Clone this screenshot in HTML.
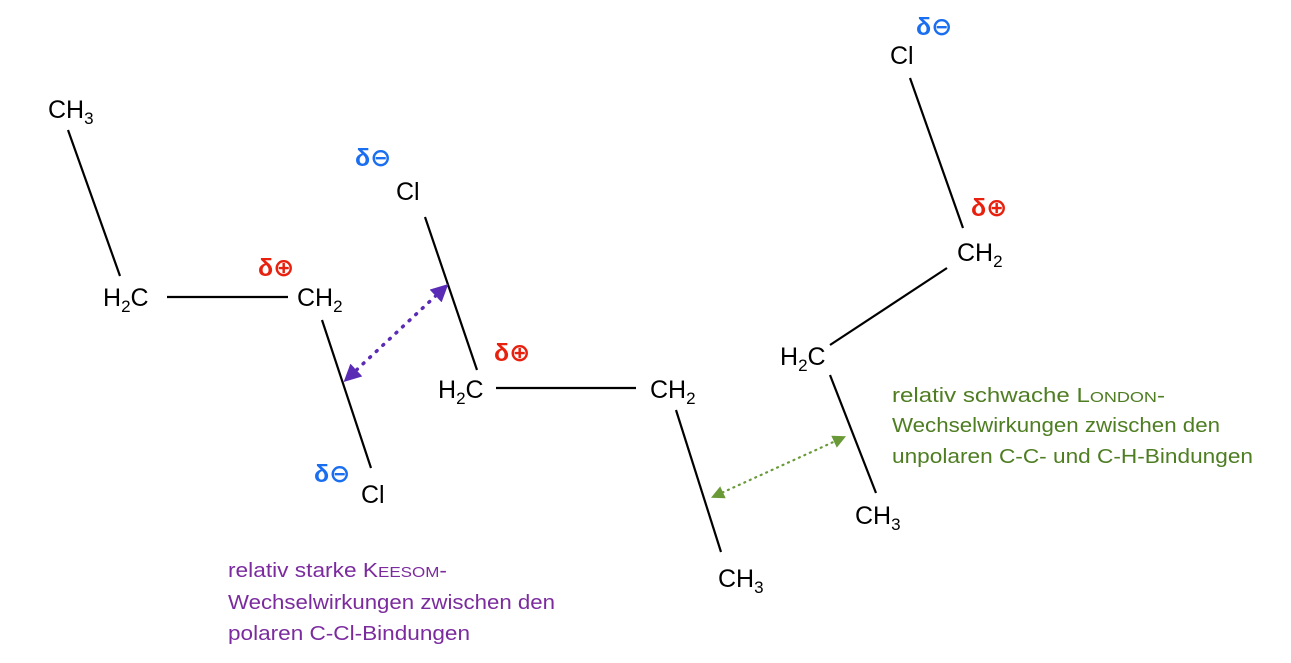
<!DOCTYPE html>
<html><head><meta charset="utf-8"><style>
html,body{margin:0;padding:0;background:#fff;width:1291px;height:663px;overflow:hidden}
svg text{font-family:"Liberation Sans","DejaVu Sans",sans-serif}
.a{font-size:25px;fill:#000}
.s{font-size:17px}
.r{fill:#e8210f;font-size:25px;font-weight:bold}
.b{fill:#1a6ef0;font-size:25px;font-weight:bold}
.p{fill:#7b2b9e;font-size:20px}
.g{fill:#4e7d22;font-size:20px}
</style></head><body>
<svg width="1291" height="663" viewBox="0 0 1291 663" xmlns="http://www.w3.org/2000/svg">
<defs>
<marker id="mp" viewBox="0 0 10 10" refX="5" refY="5" markerWidth="5" markerHeight="5" orient="auto-start-reverse"><path d="M0,0L10,5L0,10z" fill="#5a2cb5"/></marker>
<marker id="mg" viewBox="0 0 10 10" refX="5" refY="5" markerWidth="6" markerHeight="6" orient="auto-start-reverse"><path d="M0,0L10,5L0,10z" fill="#6a9a38"/></marker>
</defs>
<g stroke="#000" stroke-width="2.2" fill="none">
<line x1="68" y1="130" x2="120" y2="276"/>
<line x1="167" y1="297" x2="288" y2="297"/>
<line x1="322" y1="320" x2="371" y2="468"/>
<line x1="425" y1="217" x2="477" y2="370"/>
<line x1="496" y1="388" x2="636" y2="388"/>
<line x1="676" y1="410" x2="721" y2="552"/>
<line x1="910" y1="78" x2="963" y2="228"/>
<line x1="947" y1="268" x2="830" y2="345"/>
<line x1="830" y1="375" x2="876" y2="493"/>
</g>
<line x1="350" y1="376" x2="442" y2="290" stroke="#5a2cb5" stroke-width="3.5" stroke-dasharray="1 8" stroke-linecap="round" marker-start="url(#mp)" marker-end="url(#mp)"/>
<line x1="717" y1="495" x2="840" y2="439" stroke="#6a9a38" stroke-width="2.2" stroke-dasharray="1 5" stroke-linecap="round" marker-start="url(#mg)" marker-end="url(#mg)"/>
<text class="a" x="48" y="118">CH<tspan class="s" dy="6">3</tspan></text>
<text class="a" x="103" y="306">H<tspan class="s" dy="6">2</tspan><tspan dy="-6">C</tspan></text>
<text class="a" x="297" y="306">CH<tspan class="s" dy="6">2</tspan></text>
<text class="r" x="258" y="276">δ⊕</text>
<text class="b" x="314" y="482">δ⊖</text>
<text class="a" x="361" y="503">Cl</text>
<text class="b" x="355" y="166">δ⊖</text>
<text class="a" x="396" y="200">Cl</text>
<text class="r" x="494" y="361">δ⊕</text>
<text class="a" x="438" y="398">H<tspan class="s" dy="6">2</tspan><tspan dy="-6">C</tspan></text>
<text class="a" x="650" y="398">CH<tspan class="s" dy="6">2</tspan></text>
<text class="a" x="718" y="587">CH<tspan class="s" dy="6">3</tspan></text>
<text class="b" x="916" y="35">δ⊖</text>
<text class="a" x="890" y="64">Cl</text>
<text class="r" x="971" y="216">δ⊕</text>
<text class="a" x="957" y="261">CH<tspan class="s" dy="6">2</tspan></text>
<text class="a" x="780" y="365">H<tspan class="s" dy="6">2</tspan><tspan dy="-6">C</tspan></text>
<text class="a" x="855" y="524">CH<tspan class="s" dy="6">3</tspan></text>
<text class="p" x="228" y="577" textLength="219" lengthAdjust="spacingAndGlyphs">relativ starke K<tspan font-size="15">EESOM</tspan>-</text>
<text class="p" x="228" y="609" textLength="327" lengthAdjust="spacingAndGlyphs">Wechselwirkungen zwischen den</text>
<text class="p" x="228" y="640" textLength="242" lengthAdjust="spacingAndGlyphs">polaren C-Cl-Bindungen</text>
<text class="g" x="892" y="402" textLength="273" lengthAdjust="spacingAndGlyphs">relativ schwache L<tspan font-size="15">ONDON</tspan>-</text>
<text class="g" x="892" y="432" textLength="328" lengthAdjust="spacingAndGlyphs">Wechselwirkungen zwischen den</text>
<text class="g" x="892" y="463" textLength="361" lengthAdjust="spacingAndGlyphs">unpolaren C-C- und C-H-Bindungen</text>
</svg>
</body></html>
